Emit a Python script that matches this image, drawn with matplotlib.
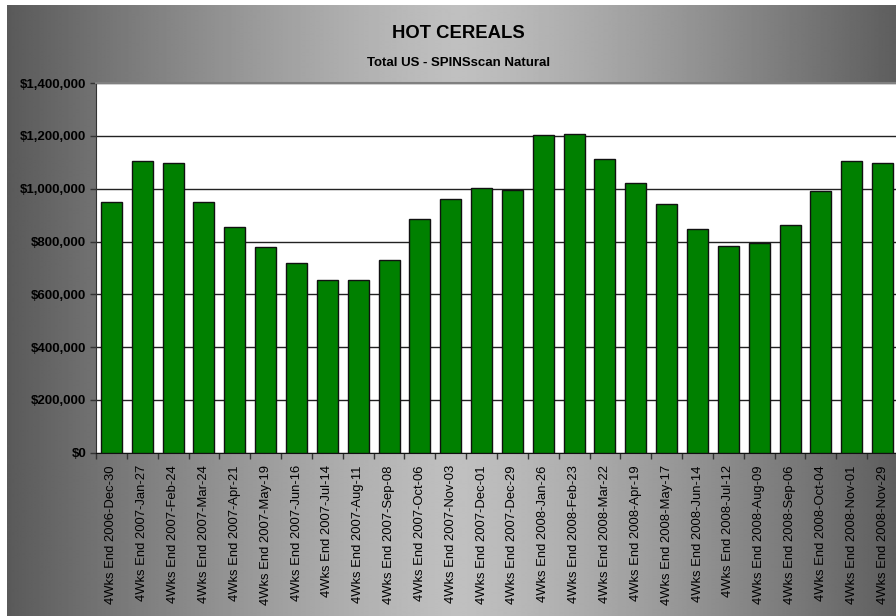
import numpy as np
import matplotlib
matplotlib.use("Agg")
import matplotlib.pyplot as plt
from matplotlib.ticker import FuncFormatter, MultipleLocator

plt.rcParams['font.family'] = ['Liberation Sans', 'DejaVu Sans']

# Data
periods = [
    "4Wks End 2006-Dec-30", "4Wks End 2007-Jan-27", "4Wks End 2007-Feb-24",
    "4Wks End 2007-Mar-24", "4Wks End 2007-Apr-21", "4Wks End 2007-May-19",
    "4Wks End 2007-Jun-16", "4Wks End 2007-Jul-14", "4Wks End 2007-Aug-11",
    "4Wks End 2007-Sep-08", "4Wks End 2007-Oct-06", "4Wks End 2007-Nov-03",
    "4Wks End 2007-Dec-01", "4Wks End 2007-Dec-29", "4Wks End 2008-Jan-26",
    "4Wks End 2008-Feb-23", "4Wks End 2008-Mar-22", "4Wks End 2008-Apr-19",
    "4Wks End 2008-May-17", "4Wks End 2008-Jun-14", "4Wks End 2008-Jul-12",
    "4Wks End 2008-Aug-09", "4Wks End 2008-Sep-06", "4Wks End 2008-Oct-04",
    "4Wks End 2008-Nov-01", "4Wks End 2008-Nov-29",
]
sales = [
    949000, 1105000, 1099000, 951000, 857000, 779000, 720000, 654000, 655000,
    731000, 884000, 961000, 1002000, 996000, 1204000, 1207000, 1113000,
    1021000, 941000, 849000, 783000, 794000, 864000, 990000, 1107000, 1097000,
]

W, H = 896, 616
fig = plt.figure(figsize=(W / 100, H / 100), dpi=100)
fig.patch.set_facecolor("white")

# Gray gradient background (light in the middle, dark at the edges)
bg = fig.add_axes([7 / W, 0, (W - 7) / W, (H - 5) / H])
bg.set_axis_off()
xs = np.arange(7, W)
d = np.clip(np.abs(xs - 458) / 450.0, 0, 1)
g = (192 - 102 * d ** 1.25) / 255.0
bg.imshow(np.tile(g, (2, 1)), cmap="gray", vmin=0, vmax=1, aspect="auto",
          extent=[0, 1, 0, 1], interpolation="bilinear")
bg.set_xlim(0, 1)
bg.set_ylim(0, 1)

fig.text(458 / W, 1 - 33 / H, "HOT CEREALS", ha="center", va="center",
         fontsize=13.3, fontweight="bold", color="black")
fig.text(459 / W, 1 - 63.5 / H, "Total US - SPINSscan Natural", ha="center",
         va="center", fontsize=9.5, fontweight="bold", color="black")

left, right, top, bottom = 96, 898, 83.2, 452.7
ax = fig.add_axes([left / W, (H - bottom) / H, (right - left) / W, (bottom - top) / H])
ax.set_facecolor("white")

x = np.arange(len(sales))
ax.set_axisbelow(True)
ax.yaxis.grid(True, color="#222222", linewidth=1)
ax.bar(x, sales, width=0.68, color="#008000", edgecolor="#111111", linewidth=1, zorder=3)

ax.set_xlim(-0.5, len(sales) - 0.5)
ax.set_ylim(0, 1400000)
ax.yaxis.set_major_locator(MultipleLocator(200000))
ax.yaxis.set_major_formatter(FuncFormatter(lambda v, p: f"${v:,.0f}"))
for lab in ax.get_yticklabels():
    lab.set_fontweight("bold")
ax.tick_params(axis="y", direction="out", length=4, width=1, color="#333333",
               labelsize=9.5, pad=3)
for lab in ax.get_yticklabels():
    lab.set_fontweight("bold")

ax.set_xticks(x)
ax.set_xticklabels(periods, rotation=90, fontsize=9.4)
ax.tick_params(axis="x", length=0, pad=9)
ax.set_xticks(np.arange(len(sales) + 1) - 0.5, minor=True)
ax.tick_params(axis="x", which="minor", direction="out", length=4, width=1, color="#333333")

ax.spines["top"].set_color("#808080")
ax.spines["top"].set_linewidth(1.5)
ax.spines["left"].set_color("#333333")
ax.spines["bottom"].set_color("#111111")
ax.spines["right"].set_visible(False)

fig.savefig("out.png", dpi=100)
